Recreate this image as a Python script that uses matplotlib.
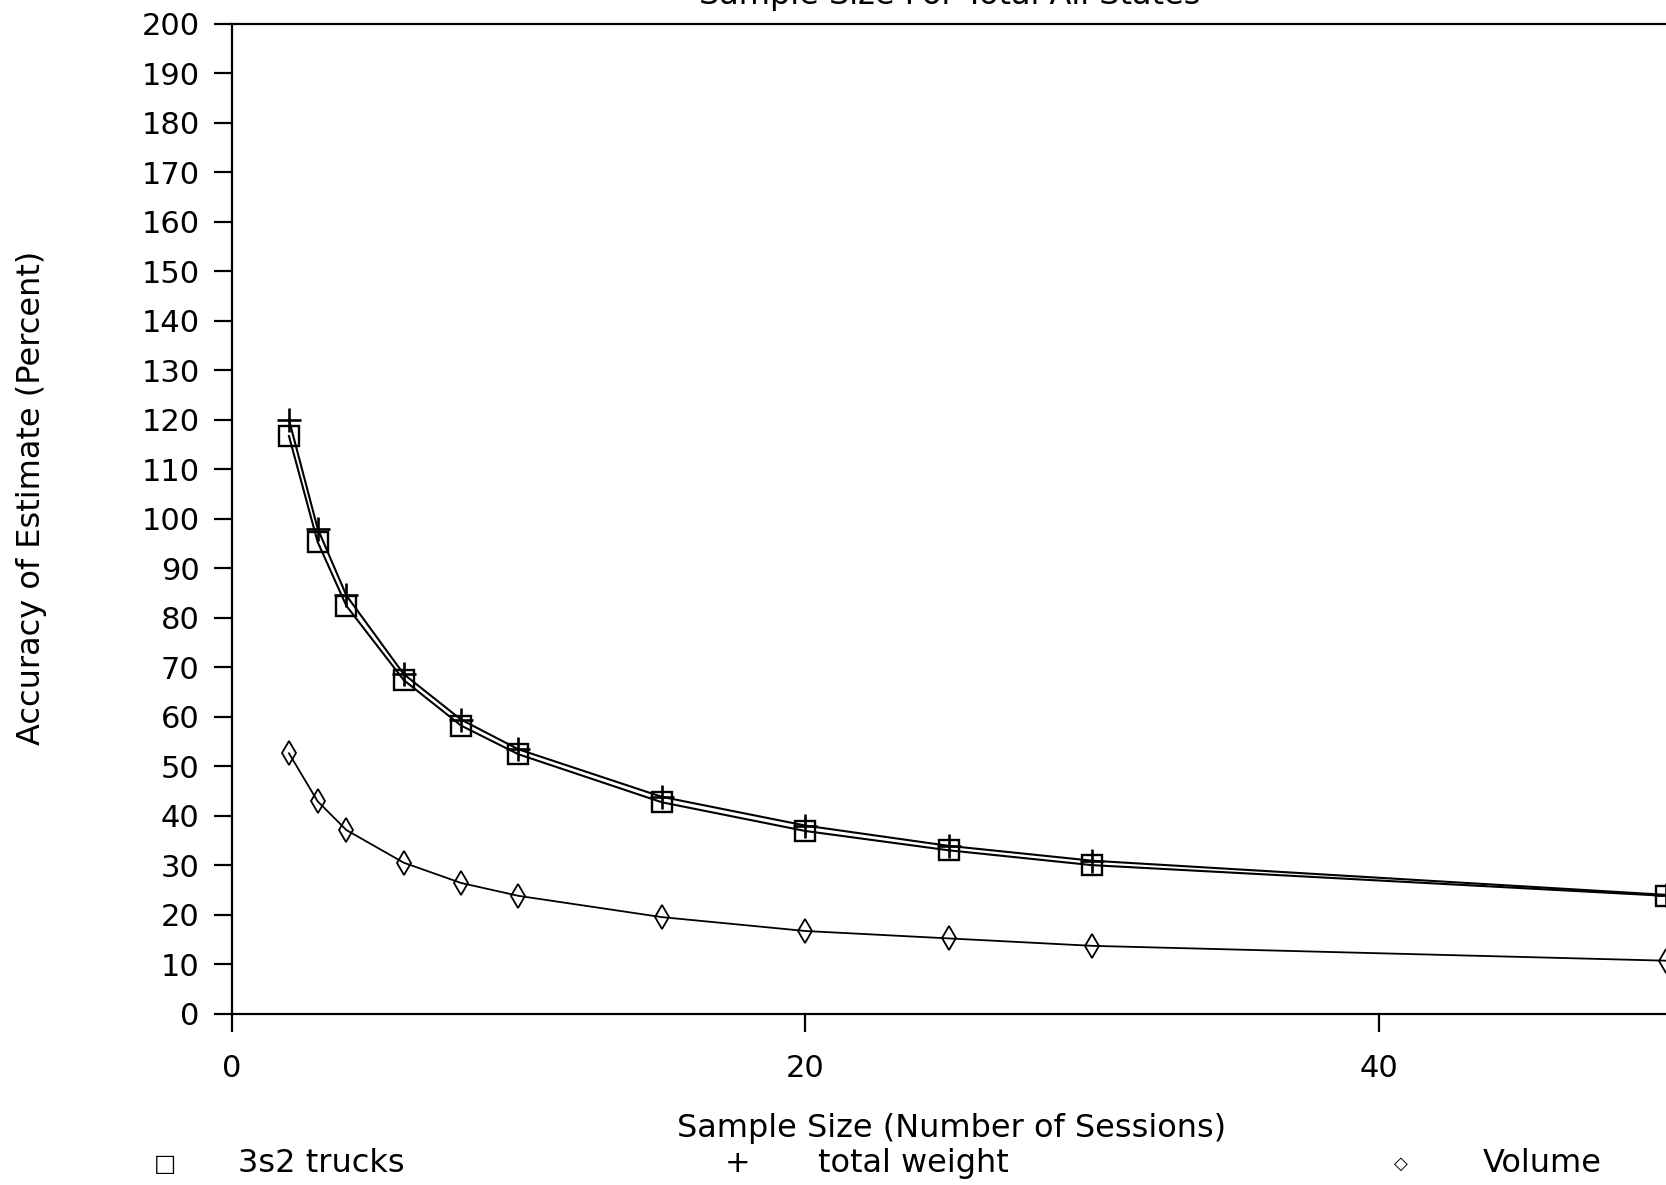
import matplotlib
matplotlib.use("Agg")
import matplotlib.pyplot as plt

# sample sizes (number of sessions)
sessions = [2, 3, 4, 6, 8, 10, 15, 20, 25, 30, 50]

# accuracy of estimate (percent)
trucks_3s2 = [116.7, 95.3, 82.4, 67.4, 58.2, 52.4, 42.7, 36.9, 33.0, 30.0, 23.8]
total_weight = [120.0, 98.0, 84.5, 68.6, 59.4, 53.4, 43.8, 38.0, 33.9, 30.9, 24.0]
volume = [52.6, 42.9, 37.1, 30.5, 26.4, 23.8, 19.5, 16.7, 15.2, 13.7, 10.7]

y_ticks = list(range(0, 201, 10))
x_ticks = [0, 20, 40]

plt.rcParams['font.family'] = ['DejaVu Sans']

fig = plt.figure(figsize=(16.66, 11.85), dpi=100)
ax = fig.add_axes([0.139, 0.1446, 0.861, 0.8354])

ax.plot(sessions, trucks_3s2, color='black', lw=1.5, marker='s', ms=14,
        mfc='none', mec='black', mew=1.7)
ax.plot(sessions, total_weight, color='black', lw=1.5, marker='+', ms=17,
        mew=1.9)
ax.plot(sessions, volume, color='black', lw=1.3, marker='d', ms=12,
        mfc='none', mec='black', mew=1.3)

ax.set_xlim(0, 50)
ax.set_ylim(0, 200)
ax.set_yticks(y_ticks)
ax.set_xticks(x_ticks)
ax.tick_params(axis='y', direction='out', length=13, width=1.6, labelsize=22, pad=10)
ax.tick_params(axis='x', direction='out', length=13, width=1.6, labelsize=22, pad=16)

ax.spines['right'].set_visible(False)
for s in ['left', 'bottom', 'top']:
    ax.spines[s].set_linewidth(1.6)

fig.text(0.019, 0.58, 'Accuracy of Estimate (Percent)', fontsize=23,
         rotation=90, ha='center', va='center')
fig.text(0.571, 0.048, 'Sample Size (Number of Sessions)', fontsize=23,
         ha='center', va='center')
# title is mostly cropped off at the top edge in the original scan
fig.text(0.57, 1.004, 'Sample Size For Total All States', fontsize=23,
         ha='center', va='center')

# legend row under the x label
fig.text(0.099, 0.018, '\u25a1', fontsize=17, ha='center', va='center')
fig.text(0.143, 0.018, '3s2 trucks', fontsize=23, ha='left', va='center')
fig.text(0.443, 0.018, '+', fontsize=22, ha='center', va='center')
fig.text(0.491, 0.018, 'total weight', fontsize=23, ha='left', va='center')
fig.text(0.841, 0.018, '\u25c7', fontsize=13, ha='center', va='center')
fig.text(0.89, 0.018, 'Volume', fontsize=23, ha='left', va='center')

fig.savefig('out.png', dpi=100)
